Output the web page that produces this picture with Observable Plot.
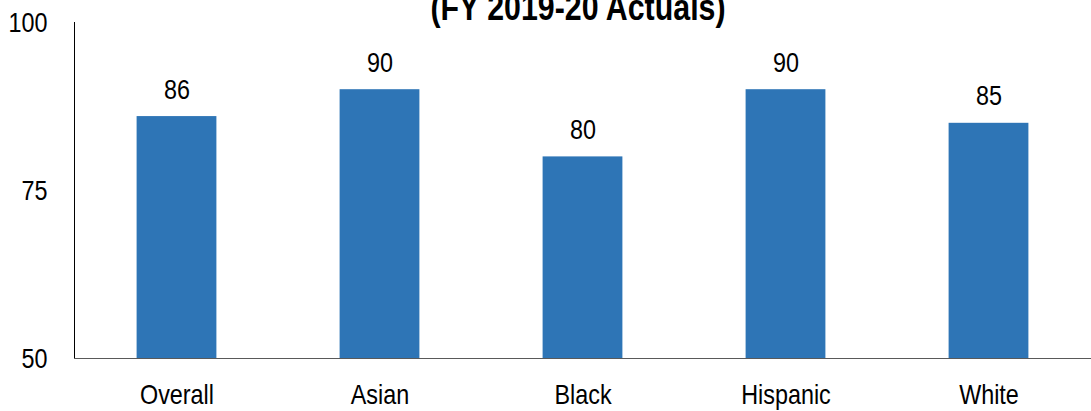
<!DOCTYPE html>
<html>
<head>
<meta charset="utf-8">
<script src="https://cdn.jsdelivr.net/npm/d3@7"></script>
<script src="https://cdn.jsdelivr.net/npm/@observablehq/plot@0.6"></script>
<style>
  html, body { margin: 0; padding: 0; background: #fff; }
  #chart svg { display: block; }
</style>
</head>
<body>
<div id="chart"></div>
<script>
// Graduation rate by group, FY 2019-20 actuals
const categories = ["Overall", "Asian", "Black", "Hispanic", "White"];
const values = [86, 90, 80, 90, 85];
const yTicks = [50, 75, 100];
const titleText = "(FY 2019-20 Actuals)";

const rows = categories.map((c, i) => ({group: c, value: values[i]}));

const sans = "'Liberation Sans', Arial, sans-serif";
const barColor = "#2E75B6";
const labelSize = 28.5;

const chart = Plot.plot({
  width: 1091,
  height: 411,
  marginTop: 22,
  marginBottom: 53,
  marginLeft: 74,
  marginRight: 1,
  style: {fontFamily: sans, fontSize: `${labelSize}px`, color: "#000", background: "#fff"},
  x: {domain: categories, padding: 0, label: null},
  y: {domain: [50, 100], label: null},
  marks: [
    Plot.barY(rows, {x: "group", y1: 50, y2: "value", fill: barColor, insetLeft: 61.6, insetRight: 61.6}),
    Plot.text(rows, {x: "group", y: "value", text: d => String(d.value), lineAnchor: "bottom", dy: -18,
      fontSize: labelSize, fill: "#000", className: "narrow"}),
    Plot.axisY(yTicks, {tickSize: 0, tickPadding: 27, fontSize: labelSize, label: null, className: "narrow"}),
    Plot.axisX({tickSize: 0, tickPadding: 25, fontSize: labelSize, label: null, className: "narrow"}),
    Plot.frame({anchor: "left", stroke: "#000"}),
    Plot.frame({anchor: "bottom", stroke: "#595959"}),
    Plot.text([titleText], {frameAnchor: "top", text: d => d, lineAnchor: "bottom", dy: -3, dx: -4.5,
      fontSize: 37, fontWeight: "bold", fill: "#000", className: "narrow"})
  ]
});

// Condense the title, value and axis labels horizontally (narrow face), keeping each label's anchor x fixed
chart.querySelectorAll("g.narrow text").forEach(t => {
  const ax = parseFloat(t.getAttribute("x")) || 0;
  const prev = t.getAttribute("transform") || "";
  t.setAttribute("transform", `${prev} translate(${ax},0) scale(0.82,1) translate(${-ax},0)`.trim());
});

document.getElementById("chart").appendChild(chart);
</script>
</body>
</html>
